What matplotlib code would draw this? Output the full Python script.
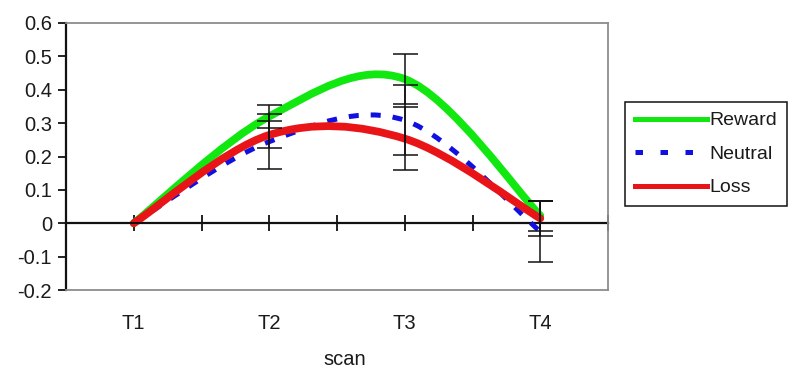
import numpy as np
import matplotlib
matplotlib.use("Agg")
import matplotlib.pyplot as plt
from matplotlib.path import Path
from matplotlib.patches import PathPatch
from matplotlib.lines import Line2D

plt.rcParams['font.family'] = ['Liberation Sans', 'DejaVu Sans']

scans = ["T1", "T2", "T3", "T4"]
reward = [0.0, 0.32, 0.432, 0.023]
neutral = [0.0, 0.2445, 0.3085, -0.0245]
loss = [0.0, 0.2645, 0.2535, 0.0145]
reward_err = [0.0, 0.035, 0.075, 0.045]
neutral_err = [0.0, 0.0825, 0.1045, 0.0925]
loss_err = [0.0, 0.0405, 0.0945, 0.0535]

series = [
    ("Reward", reward, reward_err, "#10e810", "-"),
    ("Neutral", neutral, neutral_err, "#1010e0", "--"),
    ("Loss", loss, loss_err, "#e81418", "-"),
]


def smooth_path(xs, ys):
    # excel-like smoothed line: catmull-rom turned into cubic bezier segments
    pts = np.column_stack([xs, ys]).astype(float)
    n = len(pts)
    verts = [pts[0]]
    codes = [Path.MOVETO]
    for i in range(n - 1):
        p0 = pts[max(i - 1, 0)]
        p1 = pts[i]
        p2 = pts[i + 1]
        p3 = pts[min(i + 2, n - 1)]
        c1 = p1 + (p2 - p0) / 6.0
        c2 = p2 - (p3 - p1) / 6.0
        verts += [c1, c2, p2]
        codes += [Path.CURVE4] * 3
    return Path(verts, codes)


fig = plt.figure(figsize=(7.93, 3.72), dpi=100)
ax = fig.add_axes([66 / 793, 1 - 290 / 372, (608 - 66) / 793, (290 - 23) / 372])

x = np.arange(len(scans))
handles = []
for name, vals, err, col, ls in series:
    if ls == "--":
        patch = PathPatch(smooth_path(x, vals), fill=False, edgecolor=col, lw=3.6,
                          linestyle=(0, (2.0, 2.4)), capstyle="butt", zorder=3)
        h = Line2D([], [], color=col, lw=3.6, linestyle=(0, (1.5, 3.5)))
    else:
        patch = PathPatch(smooth_path(x, vals), fill=False, edgecolor=col, lw=5.6,
                          capstyle="round", joinstyle="round", zorder=3)
        h = Line2D([], [], color=col, lw=3.6)
    ax.add_patch(patch)
    handles.append(h)
    ax.errorbar(x, vals, yerr=err, fmt="none", ecolor="#111111", elinewidth=1.1,
                capsize=9, capthick=1.1, zorder=5)

ax.set_xlim(-0.5, 3.5)
ax.set_ylim(-0.2, 0.6)

# frame
for side in ["top", "right", "bottom"]:
    ax.spines[side].set_color("#8c8c8c")
    ax.spines[side].set_linewidth(1.3)
ax.spines["left"].set_color("#111111")
ax.spines["left"].set_linewidth(1.6)

ax.set_yticks(np.round(np.arange(-0.2, 0.61, 0.1), 1))
ax.set_yticklabels(["-0.2", "-0.1", "0", "0.1", "0.2", "0.3", "0.4", "0.5", "0.6"])
ax.tick_params(axis="y", direction="out", length=6, width=1.3, pad=4,
               labelsize=14.5, color="#111111", labelcolor="#1a1a1a")

ax.set_xticks(x)
ax.set_xticklabels(scans)
ax.tick_params(axis="x", length=0, pad=17, labelsize=14.5, labelcolor="#1a1a1a")

# category axis crossing at zero
sec = ax.secondary_xaxis(0.25)
sec.set_xticks(np.arange(-0.5, 3.51, 0.5))
sec.set_xticklabels([])
sec.tick_params(axis="x", direction="inout", length=11, width=1.3, color="#111111")
sec.spines["bottom"].set_color("#111111")
sec.spines["bottom"].set_linewidth(1.6)
sec.spines["top"].set_visible(False)

ax.set_xlabel("scan", fontsize=14.5, color="#1a1a1a")
ax.xaxis.set_label_coords(0.515, -0.225)

leg = ax.legend(handles, [s[0] for s in series], loc="upper left",
                bbox_to_anchor=(625 / 793, 1 - 102 / 372), bbox_transform=fig.transFigure,
                borderaxespad=0, fontsize=14, handlelength=3.7, handletextpad=0.15,
                labelspacing=0.82, borderpad=0.5, fancybox=False, framealpha=1)
leg.get_frame().set_edgecolor("#111111")
leg.get_frame().set_linewidth(1.1)
for t in leg.get_texts():
    t.set_color("#1a1a1a")

fig.savefig("out.png", dpi=100)
